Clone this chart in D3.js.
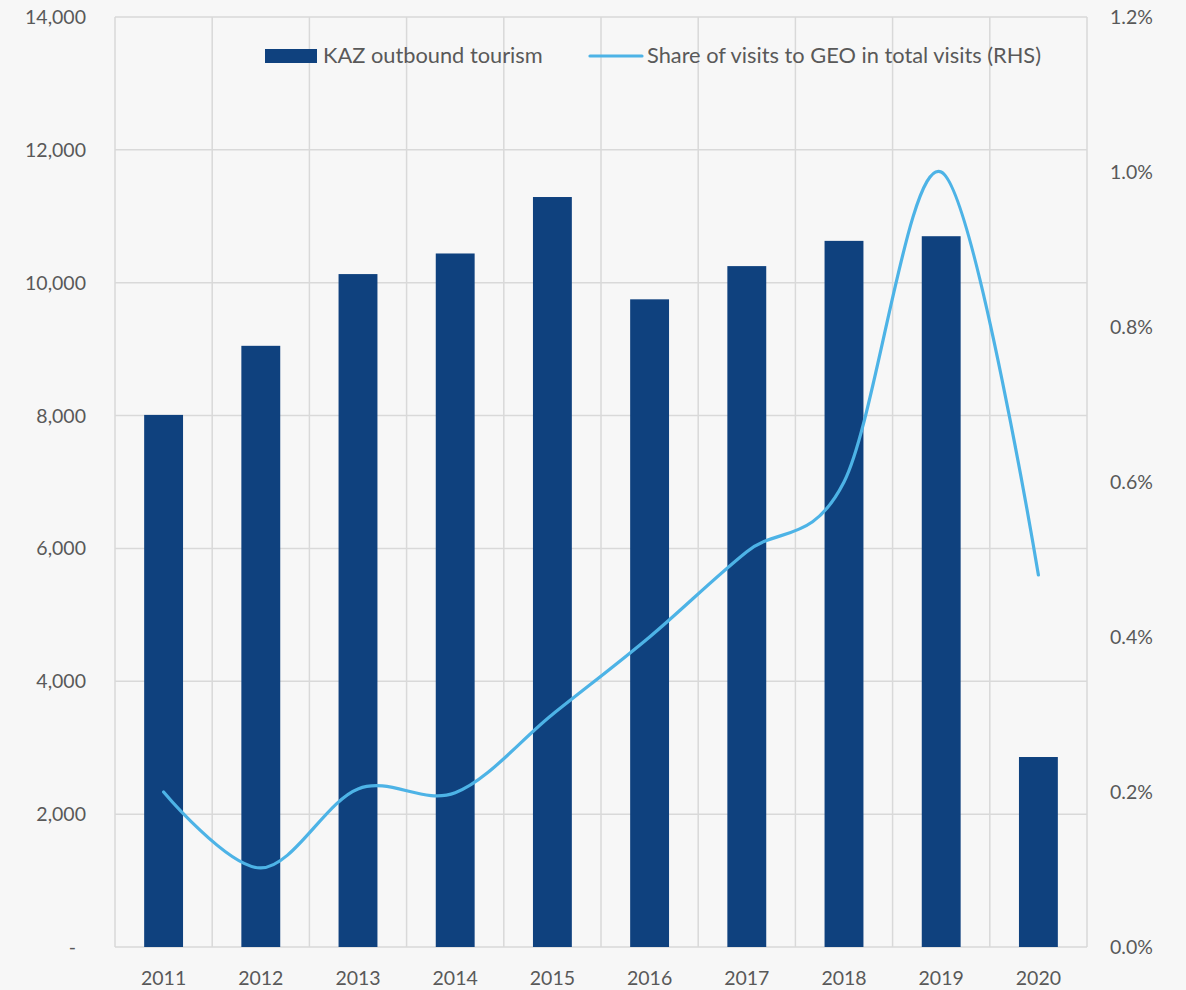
<!DOCTYPE html>
<html><head><meta charset="utf-8">
<script src="https://cdn.jsdelivr.net/npm/d3@7"></script>
<style>
html,body{margin:0;padding:0;background:#f7f7f7;}
svg{display:block;font-family:Lato,"Open Sans",sans-serif;}
</style></head>
<body><svg id="c" width="1186" height="990"></svg>
<script>
const years = ["2011","2012","2013","2014","2015","2016","2017","2018","2019","2020"];
const outbound = [8010, 9050, 10130, 10440, 11290, 9750, 10250, 10630, 10700, 2860];
const geoShare = [0.0020, 0.00102, 0.00204, 0.00199, 0.0030, 0.0040, 0.0051, 0.0060, 0.0100, 0.0048];
const leftTicks = [0, 2000, 4000, 6000, 8000, 10000, 12000, 14000];
const rightTicks = [0, 0.002, 0.004, 0.006, 0.008, 0.010, 0.012];
const legendLabels = ["KAZ outbound tourism", "Share of visits to GEO in total visits (RHS)"];

const svg = d3.select("#c");
const L = 115, R = 1087, T = 17, B = 947;
const x = d3.scaleBand().domain(years).range([L, R]).paddingInner(0).paddingOuter(0);
const yL = d3.scaleLinear().domain([0, 14000]).range([B, T]);
const yR = d3.scaleLinear().domain([0, 0.012]).range([B, T]);
const grid = "#d9d9d9", txt = "#595959", barCol = "#0f417e", lineCol = "#4db3e6";

// horizontal gridlines
svg.append("g").selectAll("line").data(leftTicks).join("line")
  .attr("x1", L).attr("x2", R).attr("y1", d => yL(d)).attr("y2", d => yL(d))
  .attr("stroke", grid).attr("stroke-width", 1.5);
// vertical gridlines at category boundaries
const bounds = years.map(y => x(y)).concat([R]);
svg.append("g").selectAll("line").data(bounds).join("line")
  .attr("x1", d => d).attr("x2", d => d).attr("y1", T).attr("y2", B)
  .attr("stroke", grid).attr("stroke-width", 1.5);

// bars
const bw = x.bandwidth() * 0.4;
svg.append("g").selectAll("rect").data(years).join("rect")
  .attr("x", (d) => x(d) + x.bandwidth() / 2 - bw / 2)
  .attr("width", bw)
  .attr("y", (d, i) => yL(outbound[i]))
  .attr("height", (d, i) => B - yL(outbound[i]))
  .attr("fill", barCol);

// line
const line = d3.line()
  .x((d, i) => x(years[i]) + x.bandwidth() / 2)
  .y(d => yR(d))
  .curve(d3.curveCardinal.tension(0));
svg.append("path").datum(geoShare).attr("d", line)
  .attr("fill", "none").attr("stroke", lineCol).attr("stroke-width", 3.2)
  .attr("stroke-linejoin", "round").attr("stroke-linecap", "round");

// left axis labels
const fmt = d3.format(",");
svg.append("g").selectAll("text").data(leftTicks).join("text")
  .attr("x", d => d === 0 ? 76 : 86).attr("y", d => yL(d) + 7)
  .attr("text-anchor", "end").attr("fill", txt).attr("font-size", 19.5)
  .text(d => d === 0 ? "-" : fmt(d));
// right axis labels
svg.append("g").selectAll("text").data(rightTicks).join("text")
  .attr("x", 1110).attr("y", d => yR(d) + 7)
  .attr("text-anchor", "start").attr("fill", txt).attr("font-size", 19.5)
  .text(d => d3.format(".1%")(d));
// x labels
svg.append("g").selectAll("text").data(years).join("text")
  .attr("x", d => x(d) + x.bandwidth() / 2).attr("y", 985)
  .attr("text-anchor", "middle").attr("fill", txt).attr("font-size", 19.5)
  .text(d => d);

// legend
const lg = svg.append("g");
lg.append("rect").attr("x", 265).attr("y", 49).attr("width", 52).attr("height", 14).attr("fill", barCol);
lg.append("text").attr("x", 323).attr("y", 63).attr("fill", txt).attr("font-size", 21.8).text(legendLabels[0]);
lg.append("line").attr("x1", 590).attr("x2", 642).attr("y1", 56).attr("y2", 56)
  .attr("stroke", lineCol).attr("stroke-width", 3.2).attr("stroke-linecap", "round");
lg.append("text").attr("x", 647).attr("y", 63).attr("fill", txt).attr("font-size", 21.8).text(legendLabels[1]);
</script></body></html>
